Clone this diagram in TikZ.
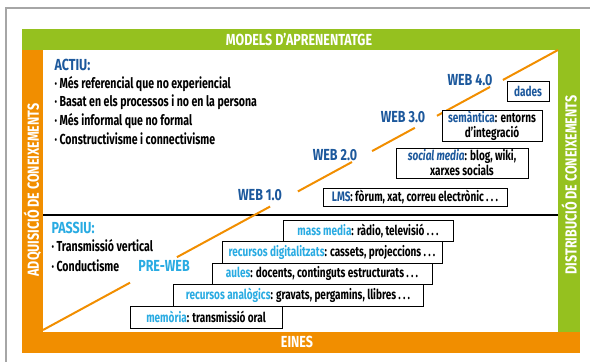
\documentclass[tikz,border=0pt]{standalone}
\usepackage{fontspec}
\setmainfont{Fira Sans}[FakeStretch=0.78]
\newfontfamily\estreta{Fira Sans}[FakeStretch=0.73]
\usetikzlibrary{calc,shadows}

\definecolor{verd}{RGB}{149,193,31}
\definecolor{taronja}{RGB}{241,142,0}
\definecolor{blaufosc}{RGB}{28,88,156}
\definecolor{blauclar}{RGB}{41,171,226}

\newcommand{\punts}{\,.\,.\,.}

\tikzset{
    caixa/.style={draw=black, line width=0.8pt, fill=white, inner sep=0pt,
        font=\estreta\fontsize{13.7}{15}\selectfont\bfseries,
        drop shadow={shadow xshift=0.8pt, shadow yshift=-0.8pt, fill=black!45, opacity=1}},
    web/.style={font=\fontsize{16}{18}\selectfont\bfseries, text=blaufosc},
    barra/.style={font=\fontsize{16}{18}\selectfont\bfseries, text=white},
    punt/.style={anchor=base west, font=\estreta\fontsize{14.5}{16}\selectfont\bfseries},
    titol/.style={anchor=base west, font=\fontsize{16}{18}\selectfont\bfseries},
    diag/.style={taronja, line width=2pt}
}

\begin{document}
\begin{tikzpicture}[x=1pt, y=-1pt]
    \useasboundingbox (0,0) rectangle (590,362);
    \draw [black!35, line width=1.5pt] (6,362) -- (6,8) -- (590,8);
    \fill [verd] (22,29) rectangle (580,50);
    \fill [verd] (558,50) rectangle (580,332);
    \fill [taronja] (22,50) rectangle (43,353);
    \fill [taronja] (22,332) rectangle (580,353);
    \node [barra] (models) at (299,40) {MODELS D’APRENENTATGE};
    \node [barra] (eines) at (297,342) {EINES};
    \node [barra, rotate=90] (adquisicio) at (32.5,190) {ADQUISICIÓ DE CONEIXEMENTS};
    \node [barra, rotate=90] (distribucio) at (569,185) {DISTRIBUCIÓ DE CONEIXEMENTS};

    \coordinate (esq) at (43,215);
    \coordinate (dre) at (558,215);
    \draw [black, line width=1.4pt] (esq) -- (dre);

    \coordinate (inici) at (43,330);
    \coordinate (final) at (558,50);
    \foreach \s/\e in {0/0.169, 0.260/0.441, 0.495/0.600, 0.639/0.722, 0.765/0.868, 0.893/1}
        \draw [diag] ($(inici)!\s!(final)$) -- ($(inici)!\e!(final)$);

    \node [titol, text=blaufosc] (actiu) at (51,70) {ACTIU:};
    \node [punt] (a1) at (51,88) {· Més referencial que no experiencial};
    \node [punt] (a2) at (51,106.5) {· Basat en els processos i no en la persona};
    \node [punt] (a3) at (51,125) {· Més informal que no formal};
    \node [punt] (a4) at (51,144.5) {· Constructivisme i connectivisme};

    \node [titol, text=blauclar] (passiu) at (48,233) {PASSIU:};
    \node [punt] (p1) at (48,251) {· Transmissió vertical};
    \node [punt] (p2) at (48,271) {· Conductisme};

    \node [web] (web4) at (470,80) {WEB 4.0};
    \node [web] (web3) at (403,117) {WEB 3.0};
    \node [web] (web2) at (335,155) {WEB 2.0};
    \node [web] (web1) at (260,195) {WEB 1.0};
    \node [web, text=blauclar] (preweb) at (164,266) {PRE-WEB};

    \node [caixa, minimum width=42pt, minimum height=20pt] (dades) at (528,91) {\color{blaufosc}dades};
    \node [caixa, minimum width=100pt, minimum height=31pt, align=center] (semantica) at (492,125.5)
        {{\color{blaufosc}semàntica}: entorns\\d’integració};
    \node [caixa, minimum width=132pt, minimum height=30pt, align=center] (social) at (462,163)
        {{\color{blaufosc}\itshape social media}: blog, wiki,\\xarxes socials};
    \node [caixa, minimum width=184pt, minimum height=18pt] (lms) at (415,197)
        {{\color{blaufosc}LMS}: fòrum, xat, correu electrònic\punts};

    \node [caixa, minimum width=170pt, minimum height=21pt] (mass) at (368,230.5)
        {{\color{blauclar}mass media}: ràdio, televisió\punts};
    \node [caixa, minimum width=220pt, minimum height=22pt] (digital) at (332,252)
        {{\color{blauclar}recursos digitalitzats}: cassets, projeccions\punts};
    \node [caixa, minimum width=220pt, minimum height=21pt] (aules) at (322,273.5)
        {{\color{blauclar}aules}: docents, continguts estructurats\punts};
    \node [caixa, minimum width=250pt, minimum height=22pt] (analogic) at (298,295)
        {{\color{blauclar}recursos analògics}: gravats, pergamins, llibres\punts};
    \node [caixa, minimum width=152pt, minimum height=22pt] (memoria) at (206,317)
        {{\color{blauclar}memòria}: transmissió oral};
\end{tikzpicture}
\end{document}
